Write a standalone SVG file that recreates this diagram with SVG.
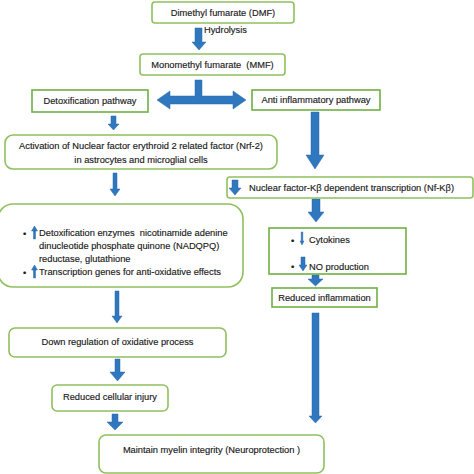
<svg xmlns="http://www.w3.org/2000/svg" width="474" height="474" viewBox="0 0 474 474">
<style>
.bx{fill:#fff;stroke:#8fc05e;stroke-width:1.6}
.sq{fill:#fff;stroke:#6fb043;stroke-width:1.6}
.t{font-family:"Liberation Sans",Arial,sans-serif;font-size:9.3px;fill:#1a1a1a;stroke:#1a1a1a;stroke-width:0.15;white-space:pre}
.c{text-anchor:middle}
.a{fill:#2f77bf;stroke:#2a6aab;stroke-width:0.5}
</style>
<rect width="474" height="474" fill="#fff"/>
<g id="connectors">
<path class="a" d="M195,28 H202 V42 H206 L199,50 L192,42 H195 Z"/>
<path class="a" d="M195,80 H202 V96 H233 V91 L246,100 L233,109 V104 H170 V109 L157,100 L170,91 V96 H195 Z"/>
<path class="a" d="M111,116 H116 V124 H119 L113.5,130 L108,124 H111 Z"/>
<path class="a" d="M311,112 H319 V155 H324 L315,169 L306,155 H311 Z"/>
<path class="a" d="M113,173 H117 V189 H120 L115,196 L110,189 H113 Z"/>
<path class="a" d="M312,199 H320 V212 H324 L316,222 L308,212 H312 Z"/>
<path class="a" d="M312,275 H319 V279 H323 L315.5,286 L308,279 H312 Z"/>
<path class="a" d="M312,313 H319 V416 H322 L315.5,423 L309,416 H312 Z"/>
<path class="a" d="M115,291 H119 V316 H122 L117,323 L112,316 H115 Z"/>
<path class="a" d="M115,359 H120 V372 H125 L117.5,381 L110,372 H115 Z"/>
<path class="a" d="M112,414 H118 V422 H123 L115,430 L107,422 H112 Z"/>
</g>
<g id="dmf">
<rect class="bx" x="152" y="2" width="142" height="21" rx="3"/>
<text class="t c" x="223" y="16">Dimethyl fumarate (DMF)</text>
</g>
<g id="hydrolysis-label">
<text class="t" x="204" y="33">Hydrolysis</text>
</g>
<g id="mmf">
<rect class="bx" x="140" y="54" width="145" height="21" rx="3"/>
<text class="t c" x="212.5" y="68">Monomethyl fumarate  (MMF)</text>
</g>
<g id="detox-pathway">
<rect class="sq" x="32" y="90" width="116" height="22"/>
<text class="t c" x="90" y="104">Detoxification pathway</text>
</g>
<g id="anti-inflammatory">
<rect class="sq" x="252" y="90" width="128" height="20"/>
<text class="t c" x="316" y="103">Anti inflammatory pathway</text>
</g>
<g id="nrf2">
<rect class="bx" x="5" y="135" width="272" height="34" rx="8"/>
<text class="t c" x="141" y="149">Activation of Nuclear factor erythroid 2 related factor (Nrf-2)</text>
<text class="t c" x="141" y="163">in astrocytes and microglial cells</text>
</g>
<g id="nfkb">
<rect class="bx" x="227" y="177" width="246" height="21" rx="3"/>
<path class="a" d="M232,180 H238 V188 H241 L235,195 L229,188 H232 Z"/>
<text class="t" x="249" y="191">Nuclear factor-Kβ dependent transcription (Nf-Kβ)</text>
</g>
<g id="detox-enzymes">
<rect class="bx" x="-2" y="204" width="245" height="83" rx="15"/>
<text class="t" x="23" y="237">•</text>
<path class="a" d="M33.5,231 H35.5 V239 H33.5 Z M31.5,231 L34.5,226 L37.5,231 Z"/>
<text class="t" x="39" y="236">Detoxification enzymes  nicotinamide adenine</text>
<text class="t" x="39" y="249">dinucleotide phosphate quinone (NADQPQ)</text>
<text class="t" x="39" y="262">reductase, glutathione</text>
<text class="t" x="23" y="276">•</text>
<path class="a" d="M33.5,270 H35.5 V278 H33.5 Z M31.5,270 L34.5,265 L37.5,270 Z"/>
<text class="t" x="39" y="275">Transcription genes for anti-oxidative effects</text>
</g>
<g id="cytokines">
<rect class="sq" x="269" y="228" width="137" height="46"/>
<text class="t" x="291" y="244">•</text>
<path class="a" d="M301.2,232 H302.8 V241 H304 L302,245 L300,241 H301.2 Z"/>
<text class="t" x="309" y="243">Cytokines</text>
<text class="t" x="291" y="270">•</text>
<path class="a" d="M301,257 H305 V265 H307 L303,271 L299,265 H301 Z"/>
<text class="t" x="309" y="270">NO production</text>
</g>
<g id="reduced-inflammation">
<rect class="sq" x="272" y="288" width="105" height="19"/>
<text class="t c" x="324.5" y="301">Reduced inflammation</text>
</g>
<g id="down-regulation">
<rect class="bx" x="9" y="328" width="217" height="29" rx="6"/>
<text class="t c" x="117.5" y="345">Down regulation of oxidative process</text>
</g>
<g id="reduced-cellular-injury">
<rect class="bx" x="52" y="385" width="116" height="26" rx="5"/>
<text class="t c" x="110" y="400">Reduced cellular injury</text>
</g>
<g id="maintain">
<rect class="bx" x="99" y="435" width="225" height="38" rx="7"/>
<text class="t c" x="211.5" y="453">Maintain myelin integrity (Neuroprotection )</text>
</g>
</svg>
